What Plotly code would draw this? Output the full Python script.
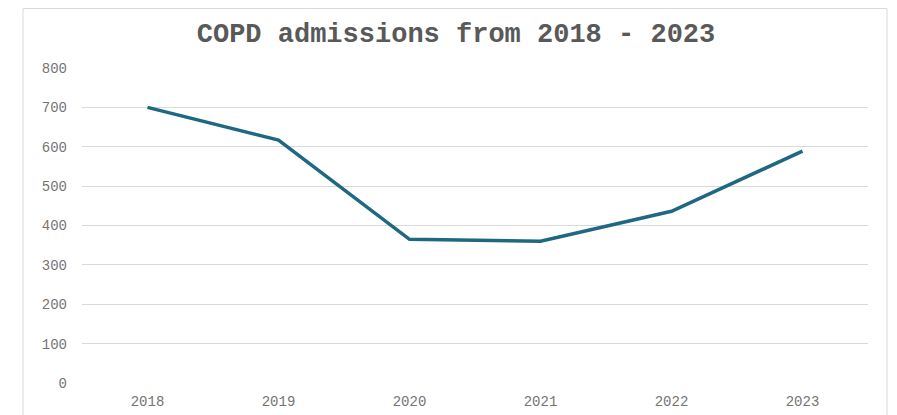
import plotly.graph_objects as go

years = ["2018", "2019", "2020", "2021", "2022", "2023"]
admissions = [700, 617, 365, 360, 436, 589]
y_ticks = [0, 100, 200, 300, 400, 500, 600, 700, 800]

W, H = 897, 415
OFF = 8  # page body offset
ml, mr, mt, mb = 82 - OFF, W - 868 + OFF, 68 - OFF, H - 383 + OFF
pw, ph = W - ml - mr, H - mt - mb

fig = go.Figure()
fig.add_trace(go.Scatter(
    x=years, y=admissions, mode="lines",
    line=dict(color="#1F6882", width=3.5),
    hoverinfo="x+y",
))

fig.update_layout(
    width=W, height=H,
    margin=dict(l=ml, r=mr, t=mt, b=mb),
    paper_bgcolor="white", plot_bgcolor="white",
    showlegend=False,
    title=dict(
        text="<b>COPD admissions from 2018 - 2023</b>",
        font=dict(family="Liberation Mono", size=27, color="#595959"),
        x=(456 - OFF) / W, xanchor="center", xref="container",
        y=1 - (33 - OFF) / H, yanchor="middle", yref="container",
    ),
    xaxis=dict(
        type="category",
        range=[-0.5, 5.5],
        showgrid=False, zeroline=False, showline=False,
        ticks="", ticklabelstandoff=8,
        tickfont=dict(family="Liberation Mono", size=14, color="#757575"),
    ),
    yaxis=dict(
        range=[0, 800],
        tickvals=y_ticks,
        showgrid=True, gridcolor="#D9D9D9", gridwidth=1,
        zeroline=False, showline=False,
        ticks="", ticklabelstandoff=14,
        tickfont=dict(family="Liberation Mono", size=14, color="#757575"),
    ),
    shapes=[dict(
        type="rect", xref="paper", yref="paper",
        x0=(23 - OFF - ml) / pw, x1=(887 - OFF - ml) / pw,
        y0=-0.3, y1=1 + (mt - 0.5) / ph,
        line=dict(color="#D9D9D9", width=1), fillcolor="rgba(0,0,0,0)",
        layer="below",
    )],
)

fig.write_html("out.html")
